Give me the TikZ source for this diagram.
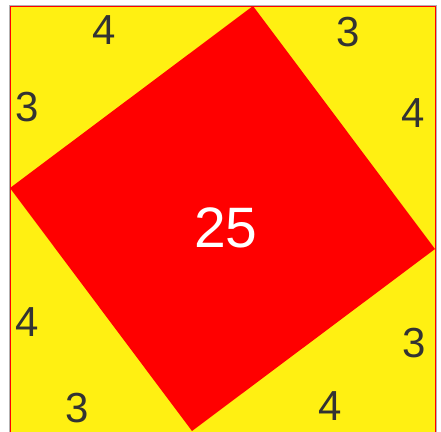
\documentclass[tikz,border=0pt]{standalone}
\usepackage{fontspec}
\setmainfont{Liberation Sans}
\definecolor{yel}{HTML}{FFF012}
\definecolor{rd}{HTML}{FF0000}
\definecolor{txt}{HTML}{333333}
\begin{document}
\begin{tikzpicture}[x=1pt,y=-1pt,
  lbl/.style={text=txt,font=\fontsize{42}{42}\selectfont,inner sep=0pt}]
\useasboundingbox (0,0) rectangle (441,431);
\fill[white] (0,0) rectangle (441,431);
\draw[gray!60,line width=0.8] (9,5) rectangle (436,440);
\fill[yel,draw=rd,line width=1] (10,6) rectangle (435,440);
\coordinate (t) at (253,6);
\coordinate (r) at (435,249);
\coordinate (b) at (192,431);
\coordinate (l) at (10,188);
\fill[rd] (t) -- (r) -- (b) -- (l) -- cycle;
\node[lbl] (a1) at (104,30) {4};
\node[lbl] (a2) at (348,32) {3};
\node[lbl] (a3) at (27,107) {3};
\node[lbl] (a4) at (413,113) {4};
\node[lbl] (a5) at (27,322) {4};
\node[lbl] (a6) at (414,343) {3};
\node[lbl] (a7) at (77,408) {3};
\node[lbl] (a8) at (330,406) {4};
\node[text=white,font=\fontsize{57}{57}\selectfont,inner sep=0pt] (c) at (226,228) {25};
\end{tikzpicture}
\end{document}
